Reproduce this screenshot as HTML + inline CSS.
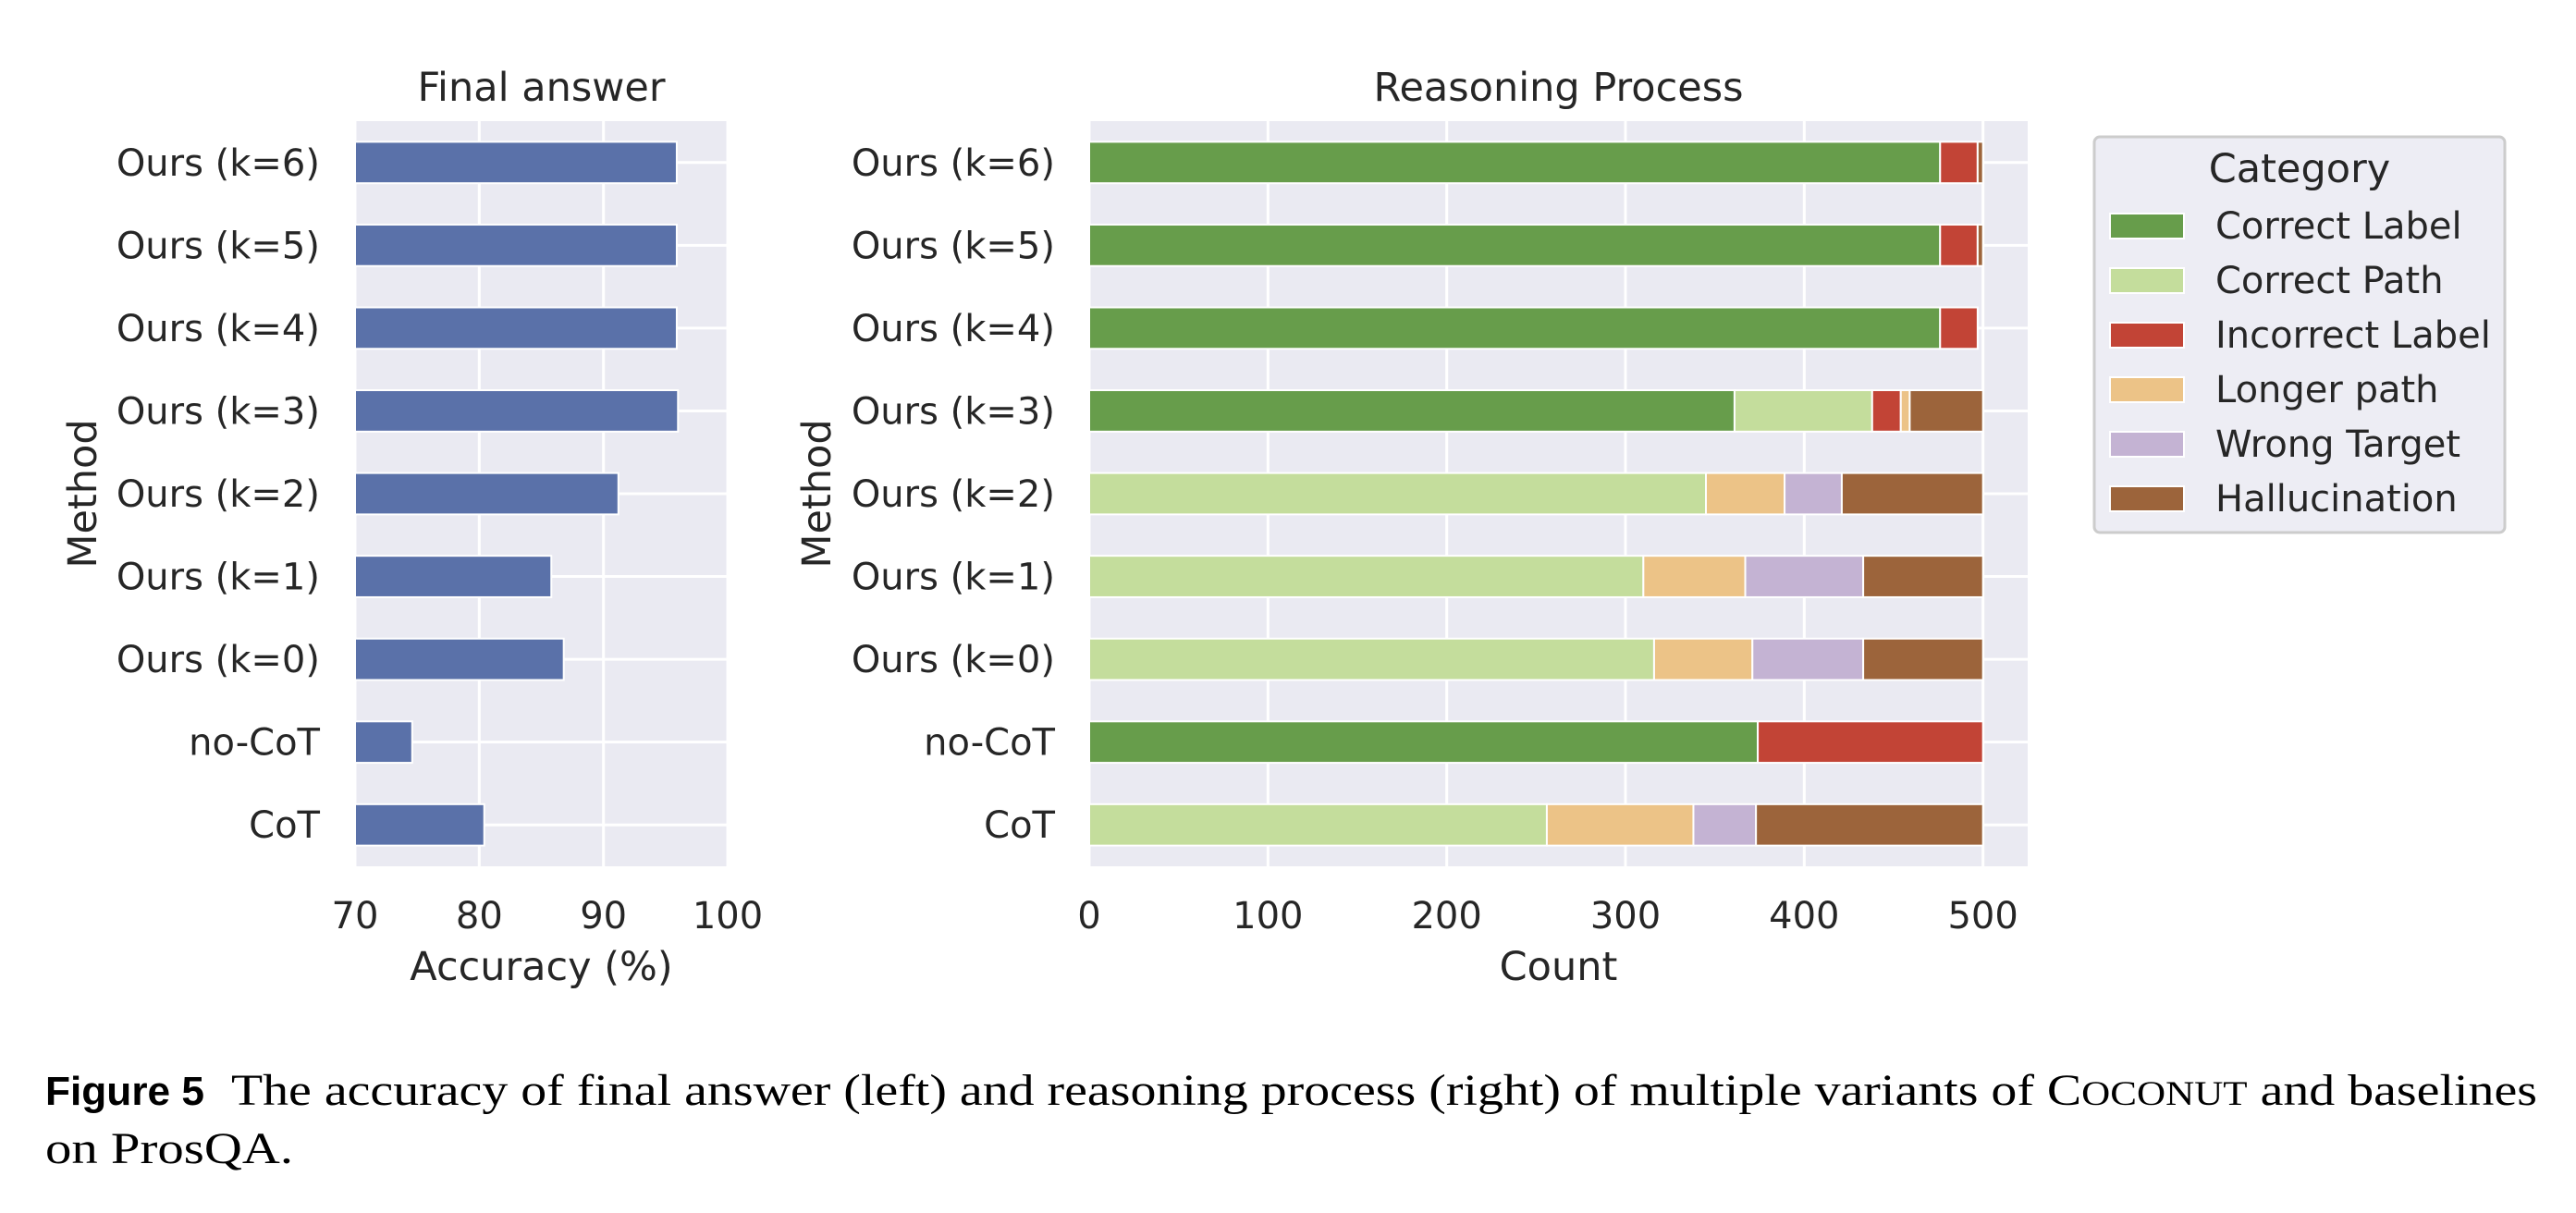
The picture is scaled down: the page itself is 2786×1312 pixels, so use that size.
<!DOCTYPE html>
<html><head><meta charset="utf-8"><style>
html,body{margin:0;padding:0;background:#fff;}
svg{display:block;font-family:"DejaVu Sans","Liberation Sans",sans-serif;}
</style></head><body>
<svg id="fig" width="2786" height="1312" viewBox="0 0 2786 1312" xmlns="http://www.w3.org/2000/svg">
<g id="left"></g>
<g id="right"></g>
<g id="legend"></g>
<g>
<text x="49" y="1195" font-family="Liberation Sans, sans-serif" font-weight="bold" font-size="44" fill="#000" textLength="172" lengthAdjust="spacingAndGlyphs">Figure 5</text>
<text x="250" y="1195" font-family="Liberation Serif, serif" font-size="48" fill="#000" textLength="2494" lengthAdjust="spacingAndGlyphs">The accuracy of final answer (left) and reasoning process (right) of multiple variants of C<tspan font-size="37">OCONUT</tspan> and baselines</text>
<text x="49" y="1258" font-family="Liberation Serif, serif" font-size="48" fill="#000" textLength="268" lengthAdjust="spacingAndGlyphs">on ProsQA.</text>
</g>
</svg>
<script>
const categories = ["Ours (k=6)","Ours (k=5)","Ours (k=4)","Ours (k=3)","Ours (k=2)","Ours (k=1)","Ours (k=0)","no-CoT","CoT"];
const accuracy = [95.9,95.9,95.9,96.0,91.2,85.8,86.8,74.6,80.4];
const accTicks = [70,80,90,100];
const countTicks = [0,100,200,300,400,500];
const seriesNames = ["Correct Label","Correct Path","Incorrect Label","Longer path","Wrong Target","Hallucination"];
const correctLabel   = [476,476,476,361,0,0,0,374,0];
const correctPath    = [0,0,0,77,345,310,316,0,256];
const incorrectLabel = [21,21,21,16,0,0,0,126,0];
const longerPath     = [0,0,0,5,44,57,55,0,82];
const wrongTarget    = [0,0,0,0,32,66,62,0,35];
const hallucination  = [3,3,0,41,79,67,67,0,127];

const colors = ["#679d4b","#c4dd9c","#c24436","#ecc387","#c4b3d3","#9c643b"];
const NS = "http://www.w3.org/2000/svg";
function mk(parent, tag, attrs, text){
  const e = document.createElementNS(NS, tag);
  for (const k in attrs) e.setAttribute(k, attrs[k]);
  if (text !== undefined) e.textContent = text;
  parent.appendChild(e);
  return e;
}
const TOP = 131, BOT = 937;
const band = (BOT - TOP) / categories.length;
function yc(i){ return TOP + band * (i + 0.5); }
const barH = band * 0.5;

function drawAxes(g, x0, x1, xmin, xmax, ticks, title, xlabel, ylabelX, tickRight, plotName){
  const sx = v => x0 + (v - xmin) / (xmax - xmin) * (x1 - x0);
  const bg = mk(g,'rect',{x:x0,y:TOP,width:x1-x0,height:BOT-TOP,fill:'#eaeaf2'});
  
  
  ticks.forEach(t => {
    const l = mk(g,'line',{x1:sx(t),x2:sx(t),y1:TOP,y2:BOT,stroke:'#fff','stroke-width':3});
    
    
    const tl = mk(g,'text',{x:sx(t),y:1004,'text-anchor':'middle','font-size':40,fill:'#262626'}, String(t));
    
    
  });
  categories.forEach((c,i) => {
    const l = mk(g,'line',{x1:x0,x2:x1,y1:yc(i),y2:yc(i),stroke:'#fff','stroke-width':3});
    
    
    const tl = mk(g,'text',{x:tickRight,y:yc(i)+14,'text-anchor':'end','font-size':40,fill:'#262626'}, c);
    
    
  });
  const t = mk(g,'text',{x:(x0+x1)/2,y:109,'text-anchor':'middle','font-size':43,fill:'#262626'}, title);
  
  
  const xl = mk(g,'text',{x:(x0+x1)/2,y:1060,'text-anchor':'middle','font-size':43,fill:'#262626'}, xlabel);
  
  
  const yl = mk(g,'text',{x:0,y:0,'text-anchor':'middle','font-size':43,fill:'#262626',transform:`translate(${ylabelX},${(TOP+BOT)/2}) rotate(-90)`}, 'Method');
  
  
  return sx;
}

// Left chart
const gl = document.getElementById('left');
const sxL = drawAxes(gl, 384, 787, 70, 100, accTicks, 'Final answer', 'Accuracy (%)', 104, 346, 'final-answer');
accuracy.forEach((v,i) => {
  const r = mk(gl,'rect',{x:sxL(70),y:yc(i)-barH/2,width:sxL(v)-sxL(70),height:barH,fill:'#5a71a9',stroke:'#fff','stroke-width':2});
  
  
});

// Right chart
const gr = document.getElementById('right');
const sxR = drawAxes(gr, 1178, 2193, 0, 525, countTicks, 'Reasoning Process', 'Count', 898, 1141, 'reasoning-process');
const series = [correctLabel, correctPath, incorrectLabel, longerPath, wrongTarget, hallucination];
categories.forEach((c,i) => {
  let acc = 0;
  series.forEach((s,k) => {
    const v = s[i];
    if (v > 0) {
      const r = mk(gr,'rect',{x:sxR(acc),y:yc(i)-barH/2,width:sxR(acc+v)-sxR(acc),height:barH,fill:colors[k],stroke:'#fff','stroke-width':2});
      
      
    }
    acc += v;
  });
});

// Legend
const lg = document.getElementById('legend');
const box = mk(lg,'rect',{x:2265,y:148,width:444,height:428,rx:6,fill:'#eaeaf2','fill-opacity':0.85,stroke:'#cccccc','stroke-width':3});


const lt = mk(lg,'text',{x:2487,y:197,'text-anchor':'middle','font-size':43,fill:'#262626'}, 'Category');


seriesNames.forEach((n,k) => {
  const by = 258 + k*59;
  const p = mk(lg,'rect',{x:2282,y:by-27,width:80,height:27,fill:colors[k],stroke:'#fff','stroke-width':2});
  
  
  const t = mk(lg,'text',{x:2396,y:by,'font-size':40,fill:'#262626'}, n);
  
  
});
</script>
</body></html>
